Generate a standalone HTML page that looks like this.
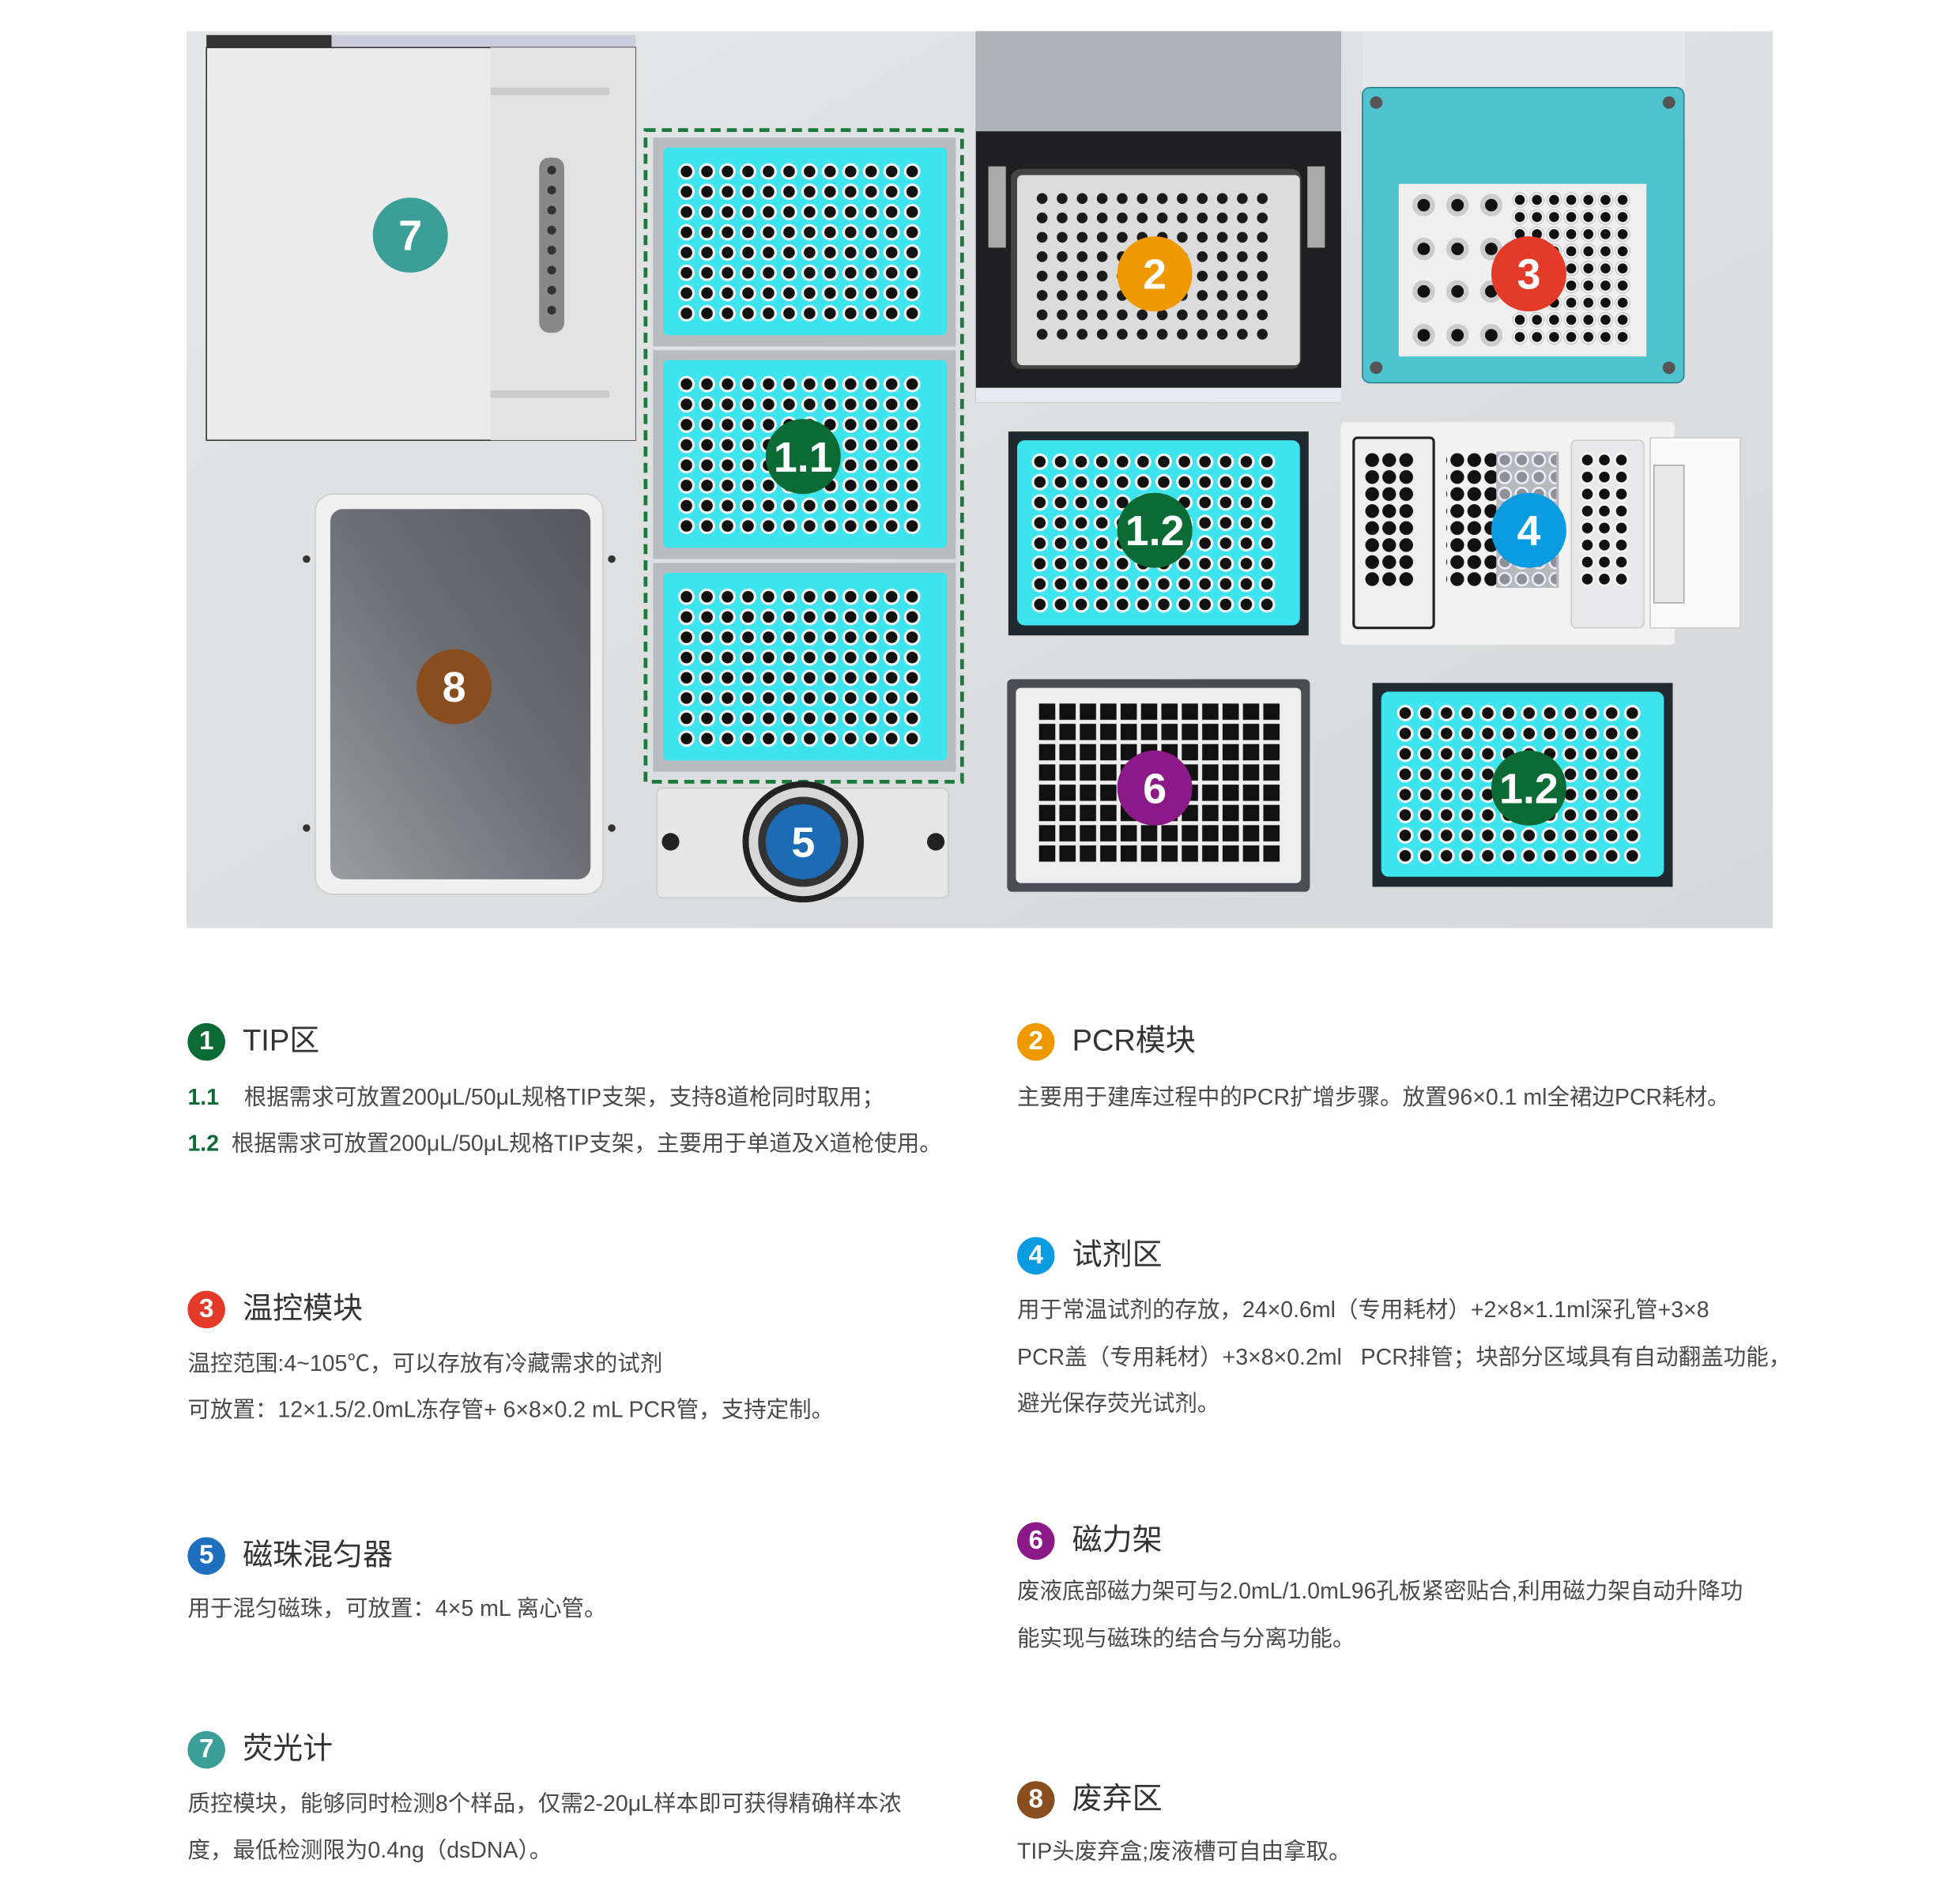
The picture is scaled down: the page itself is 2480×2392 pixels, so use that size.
<!DOCTYPE html>
<html><head><meta charset="utf-8">
<style>
html,body{margin:0;padding:0;background:#fff;}
#wrap{position:relative;width:2480px;height:2392px;overflow:hidden;background:#fff;}
#s{position:absolute;left:0;top:0;width:1570px;height:1512px;transform:scale(1.583);transform-origin:0 0;font-family:"Liberation Sans","Noto Sans CJK SC",sans-serif;color:#4a4a4a;}
.h{position:absolute;font-size:24px;color:#333;white-space:nowrap;line-height:30px;}
.h i{display:inline-block;width:30px;height:30px;border-radius:50%;color:#fff;font-style:normal;font-weight:bold;text-align:center;line-height:30px;font-size:21px;margin-right:14px;vertical-align:top;}
.t{position:absolute;font-size:18px;white-space:nowrap;line-height:20px;color:#4a4a4a;}
.g{color:#0c6b35;font-weight:bold;}
</style></head><body><div id="wrap"><div id="s">
<svg width="1560" height="760" style="position:absolute;left:0;top:0" xmlns="http://www.w3.org/2000/svg">
<defs>
<linearGradient id="bg" x1="0" y1="0" x2="1" y2="1"><stop offset="0" stop-color="#e4e6e8"/><stop offset="1" stop-color="#d6d8da"/></linearGradient>
<linearGradient id="bin" x1="1" y1="0" x2="0" y2="1"><stop offset="0" stop-color="#55575c"/><stop offset=".5" stop-color="#6e7075"/><stop offset="1" stop-color="#9a9ca0"/></linearGradient>
<pattern id="tip" x="540.5" y="129" width="16.4" height="16.2" patternUnits="userSpaceOnUse"><circle cx="8.2" cy="8.1" r="6.6" fill="#f2f4f4"/><circle cx="8.2" cy="8.1" r="4.6" fill="#111"/></pattern>
<pattern id="tipB" x="540.5" y="299" width="16.4" height="16.2" patternUnits="userSpaceOnUse"><circle cx="8.2" cy="8.1" r="6.6" fill="#f2f4f4"/><circle cx="8.2" cy="8.1" r="4.6" fill="#111"/></pattern>
<pattern id="tipC" x="540.5" y="469" width="16.4" height="16.2" patternUnits="userSpaceOnUse"><circle cx="8.2" cy="8.1" r="6.6" fill="#f2f4f4"/><circle cx="8.2" cy="8.1" r="4.6" fill="#111"/></pattern>
<pattern id="tipD" x="823" y="361" width="16.5" height="16.3" patternUnits="userSpaceOnUse"><circle cx="8.2" cy="8.1" r="6.6" fill="#f2f4f4"/><circle cx="8.2" cy="8.1" r="4.6" fill="#111"/></pattern>
<pattern id="tipE" x="1115" y="562" width="16.5" height="16.3" patternUnits="userSpaceOnUse"><circle cx="8.2" cy="8.1" r="6.6" fill="#f2f4f4"/><circle cx="8.2" cy="8.1" r="4.6" fill="#111"/></pattern>
<pattern id="pcr" x="825" y="151" width="16" height="15.5" patternUnits="userSpaceOnUse"><circle cx="8" cy="7.7" r="4.3" fill="#1a1a1a"/></pattern>
<pattern id="mag" x="829" y="561" width="16.3" height="16.2" patternUnits="userSpaceOnUse"><rect x="1.5" y="1.5" width="13" height="13" fill="#111"/></pattern>
<pattern id="t3" x="1208" y="153" width="13.7" height="13.7" patternUnits="userSpaceOnUse"><circle cx="6.8" cy="6.8" r="5.8" fill="#f4f4f4" stroke="#bbb" stroke-width=".6"/><circle cx="6.8" cy="6.8" r="4" fill="#111"/></pattern>
<pattern id="r4" x="1090" y="361" width="13.6" height="13.6" patternUnits="userSpaceOnUse"><circle cx="6.8" cy="6.8" r="5.5" fill="#111"/></pattern>
<pattern id="r4b" x="1262" y="361" width="13.6" height="13.6" patternUnits="userSpaceOnUse"><circle cx="6.8" cy="6.8" r="6" fill="#f4f4f4"/><circle cx="6.8" cy="6.8" r="4.3" fill="#111"/></pattern>
<pattern id="r4c" x="1196" y="361" width="13.6" height="13.6" patternUnits="userSpaceOnUse"><circle cx="6.8" cy="6.8" r="5" fill="#8e9096" stroke="#eef" stroke-width="1.6"/></pattern>
</defs>
<rect x="149" y="25" width="1268" height="717" fill="url(#bg)"/>
<rect x="165" y="28" width="100" height="10" fill="#333"/>
<rect x="265" y="28" width="243" height="10" fill="#ccd"/>
<rect x="165" y="38" width="343" height="314" fill="#ebebec" stroke="#333" stroke-width="1"/>
<rect x="392" y="38" width="116" height="314" fill="#e3e3e4"/>
<rect x="392" y="70" width="95" height="6" fill="#ccc"/>
<rect x="392" y="312" width="95" height="6" fill="#ccc"/>
<rect x="431" y="126" width="20" height="140" rx="8" fill="#888"/>
<g fill="#333"><circle cx="441" cy="136" r="3.5"/><circle cx="441" cy="152" r="3.5"/><circle cx="441" cy="168" r="3.5"/><circle cx="441" cy="184" r="3.5"/><circle cx="441" cy="200" r="3.5"/><circle cx="441" cy="216" r="3.5"/><circle cx="441" cy="232" r="3.5"/><circle cx="441" cy="248" r="3.5"/></g>
<rect x="252" y="395" width="230" height="320" rx="14" fill="#f0f0f1" stroke="#ccc"/>
<rect x="264" y="407" width="208" height="296" rx="10" fill="url(#bin)"/>
<g fill="#333"><circle cx="245" cy="447" r="3"/><circle cx="245" cy="662" r="3"/><circle cx="489" cy="447" r="3"/><circle cx="489" cy="662" r="3"/></g>
<g>
<rect x="522" y="110" width="242" height="167" fill="#b9bcbf"/><rect x="530" y="118" width="227" height="150" rx="4" fill="#3de4ee"/><rect x="540.5" y="129" width="197" height="130" fill="url(#tip)"/>
<rect x="522" y="280" width="242" height="167" fill="#b9bcbf"/><rect x="530" y="288" width="227" height="150" rx="4" fill="#3de4ee"/><rect x="540.5" y="299" width="197" height="130" fill="url(#tipB)"/>
<rect x="522" y="450" width="242" height="167" fill="#b9bcbf"/><rect x="530" y="458" width="227" height="150" rx="4" fill="#3de4ee"/><rect x="540.5" y="469" width="197" height="130" fill="url(#tipC)"/>
</g>
<rect x="516" y="104" width="253" height="521" fill="none" stroke="#1b7a3c" stroke-width="3" stroke-dasharray="8,5"/>
<rect x="525" y="630" width="233" height="88" rx="5" fill="#e6e6e7" stroke="#ccc"/>
<circle cx="536" cy="673" r="7" fill="#222"/><circle cx="748" cy="673" r="7" fill="#222"/>
<circle cx="642" cy="673" r="46" fill="#d7d7d8" stroke="#222" stroke-width="5"/>
<circle cx="642" cy="673" r="36" fill="#333"/>
<rect x="780" y="25" width="292" height="297" fill="#1f1f21"/>
<rect x="780" y="25" width="292" height="80" fill="#b0b3b8"/>
<rect x="780" y="310" width="292" height="12" fill="#e6eaf0"/>
<rect x="790" y="133" width="14" height="65" fill="#aaa"/><rect x="1045" y="133" width="14" height="65" fill="#aaa"/>
<rect x="808" y="135" width="232" height="160" rx="8" fill="#444"/>
<rect x="813" y="140" width="226" height="152" rx="4" fill="#dcdcdc"/>
<rect x="825" y="151" width="193" height="125" fill="url(#pcr)"/>
<rect x="1089" y="25" width="258" height="45" fill="#e4e6ea"/>
<rect x="1089" y="70" width="257" height="236" rx="6" fill="#4ec4d0" stroke="#2a7f88"/>
<g fill="#555"><circle cx="1100" cy="82" r="5"/><circle cx="1334" cy="82" r="5"/><circle cx="1100" cy="294" r="5"/><circle cx="1334" cy="294" r="5"/></g>
<rect x="1118" y="147" width="198" height="138" fill="#efefef"/>
<g fill="#111" stroke="#ccc" stroke-width="4"><circle cx="1138" cy="164" r="7"/><circle cx="1165" cy="164" r="7"/><circle cx="1192" cy="164" r="7"/><circle cx="1138" cy="199" r="7"/><circle cx="1165" cy="199" r="7"/><circle cx="1192" cy="199" r="7"/><circle cx="1138" cy="233" r="7"/><circle cx="1165" cy="233" r="7"/><circle cx="1192" cy="233" r="7"/><circle cx="1138" cy="268" r="7"/><circle cx="1165" cy="268" r="7"/><circle cx="1192" cy="268" r="7"/></g>
<rect x="1208" y="153" width="96" height="124" fill="url(#t3)"/>
<rect x="806" y="345" width="240" height="163" fill="#1e2a30"/>
<rect x="813" y="352" width="226" height="148" rx="6" fill="#3de4ee"/>
<rect x="823" y="361" width="198" height="131" fill="url(#tipD)"/>
<rect x="1071" y="337" width="268" height="179" rx="4" fill="#f2f2f3" stroke="#ddd"/>
<rect x="1319" y="350" width="72" height="152" fill="#fafafa" stroke="#ccc"/>
<rect x="1322" y="372" width="24" height="110" fill="#e8e8e8" stroke="#aaa"/>
<rect x="1082" y="350" width="64" height="152" rx="3" fill="#eee" stroke="#222" stroke-width="2"/>
<rect x="1090" y="361" width="41" height="109" fill="url(#r4)"/>
<rect x="1156" y="361" width="41" height="109" fill="url(#r4)"/>
<rect x="1196" y="361" width="50" height="109" fill="#b8b9bd"/>
<rect x="1196" y="361" width="48" height="109" fill="url(#r4c)"/>
<rect x="1256" y="352" width="58" height="150" rx="4" fill="#e8e8ea" stroke="#ccc"/>
<rect x="1262" y="361" width="41" height="109" fill="url(#r4b)"/>
<rect x="805" y="543" width="242" height="170" rx="4" fill="#4a4d52"/>
<rect x="812" y="550" width="228" height="156" rx="4" fill="#eeeeee"/>
<rect x="829" y="561" width="196" height="130" fill="url(#mag)"/>
<rect x="1097" y="546" width="240" height="163" fill="#1e2a30"/>
<rect x="1104" y="553" width="226" height="148" rx="6" fill="#3de4ee"/>
<rect x="1115" y="562" width="198" height="131" fill="url(#tipE)"/>
<g font-family="Liberation Sans, sans-serif" font-weight="bold" fill="#fff" text-anchor="middle">
<circle cx="328" cy="188" r="30" fill="#3b9f98"/><text x="328" y="200" font-size="34">7</text>
<circle cx="363" cy="549" r="30" fill="#8a4e1e"/><text x="363" y="561" font-size="34">8</text>
<circle cx="642" cy="365" r="30" fill="#0c6b35"/><text x="642" y="377" font-size="34">1.1</text>
<circle cx="642" cy="673" r="30" fill="#1e6fbd" opacity=".95"/><text x="642" y="685" font-size="34">5</text>
<circle cx="923" cy="219" r="30" fill="#f09800"/><text x="923" y="231" font-size="34">2</text>
<circle cx="1222" cy="219" r="30" fill="#e43a2a"/><text x="1222" y="231" font-size="34">3</text>
<circle cx="923" cy="424" r="30" fill="#0c6b35"/><text x="923" y="436" font-size="34">1.2</text>
<circle cx="1222" cy="424" r="30" fill="#0a9be0"/><text x="1222" y="436" font-size="34">4</text>
<circle cx="923" cy="630" r="30" fill="#8b1a88"/><text x="923" y="642" font-size="34">6</text>
<circle cx="1222" cy="630" r="30" fill="#0c6b35"/><text x="1222" y="642" font-size="34">1.2</text>
</g>
</svg>

<div class="h" style="left:150px;top:818px"><i style="background:#0c6b35">1</i>TIP区</div>
<div class="t" style="left:150px;top:867px"><span class="g">1.1</span>&nbsp;&nbsp;&nbsp;&nbsp;根据需求可放置200μL/50μL规格TIP支架，支持8道枪同时取用；</div>
<div class="t" style="left:150px;top:904px"><span class="g">1.2</span>&nbsp;&nbsp;根据需求可放置200μL/50μL规格TIP支架，主要用于单道及X道枪使用。</div>

<div class="h" style="left:813px;top:818px"><i style="background:#f09800">2</i>PCR模块</div>
<div class="t" style="left:813px;top:867px">主要用于建库过程中的PCR扩增步骤。放置96×0.1 ml全裙边PCR耗材。</div>

<div class="h" style="left:813px;top:989px"><i style="background:#0a9be0">4</i>试剂区</div>
<div class="t" style="left:813px;top:1037px">用于常温试剂的存放，24×0.6ml（专用耗材）+2×8×1.1ml深孔管+3×8</div>
<div class="t" style="left:813px;top:1075px">PCR盖（专用耗材）+3×8×0.2ml&nbsp;&nbsp;&nbsp;PCR排管；块部分区域具有自动翻盖功能，</div>
<div class="t" style="left:813px;top:1112px">避光保存荧光试剂。</div>

<div class="h" style="left:150px;top:1032px"><i style="background:#e43a2a">3</i>温控模块</div>
<div class="t" style="left:150px;top:1080px">温控范围:4~105℃，可以存放有冷藏需求的试剂</div>
<div class="t" style="left:150px;top:1117px">可放置：12×1.5/2.0mL冻存管+ 6×8×0.2 mL PCR管，支持定制。</div>

<div class="h" style="left:150px;top:1229px"><i style="background:#1e6fbd">5</i>磁珠混匀器</div>
<div class="t" style="left:150px;top:1276px">用于混匀磁珠，可放置：4×5 mL 离心管。</div>

<div class="h" style="left:813px;top:1217px"><i style="background:#8b1a88">6</i>磁力架</div>
<div class="t" style="left:813px;top:1262px">废液底部磁力架可与2.0mL/1.0mL96孔板紧密贴合,利用磁力架自动升降功</div>
<div class="t" style="left:813px;top:1300px">能实现与磁珠的结合与分离功能。</div>

<div class="h" style="left:150px;top:1384px"><i style="background:#3b9f98">7</i>荧光计</div>
<div class="t" style="left:150px;top:1432px">质控模块，能够同时检测8个样品，仅需2-20μL样本即可获得精确样本浓</div>
<div class="t" style="left:150px;top:1469px">度，最低检测限为0.4ng（dsDNA）。</div>

<div class="h" style="left:813px;top:1424px"><i style="background:#8a4e1e">8</i>废弃区</div>
<div class="t" style="left:813px;top:1470px">TIP头废弃盒;废液槽可自由拿取。</div>
</div></div></body></html>
